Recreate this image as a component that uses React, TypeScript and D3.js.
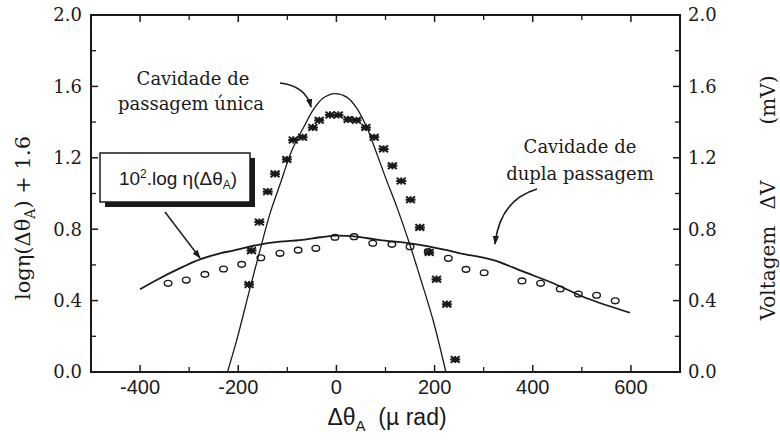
import React from "react";
import * as d3 from "d3";

// ---- data ----
const singleX = [-178, -173, -157, -140, -125, -101, -88, -69, -48, -35, -13, 4, 24, 41, 60, 77, 96, 114, 132, 151, 170, 189, 204, 225, 242];
const singleY = [0.49, 0.68, 0.84, 1.01, 1.11, 1.19, 1.3, 1.315, 1.37, 1.41, 1.44, 1.44, 1.415, 1.41, 1.37, 1.315, 1.25, 1.155, 1.07, 0.965, 0.81, 0.67, 0.52, 0.38, 0.07];

const dualX = [-343, -306, -268, -230, -193, -154, -115, -78, -42, -3, 36, 74, 113, 150, 187, 228, 264, 301, 378, 416, 456, 493, 530, 568];
const dualY = [0.497, 0.515, 0.547, 0.577, 0.603, 0.64, 0.665, 0.683, 0.693, 0.755, 0.758, 0.721, 0.715, 0.702, 0.674, 0.637, 0.575, 0.556, 0.51, 0.497, 0.465, 0.437, 0.43, 0.399];

const singleFitX = [-222, -203, -176, -154, -135, -115, -91, -67, -47, -27, -3, 21, 41, 62, 82, 102, 123, 150, 170, 197, 223];
const singleFitY = [0, 0.18, 0.47, 0.7, 0.89, 1.05, 1.24, 1.37, 1.47, 1.535, 1.56, 1.54, 1.48, 1.37, 1.225, 1.075, 0.925, 0.71, 0.535, 0.29, 0];

const dualFitX = [-400, -373, -312, -278, -237, -210, -162, -115, -74, -33, 0, 41, 89, 150, 225, 252, 320, 381, 442, 510, 598];
const dualFitY = [0.463, 0.506, 0.59, 0.631, 0.665, 0.68, 0.711, 0.73, 0.739, 0.755, 0.764, 0.758, 0.739, 0.721, 0.683, 0.665, 0.627, 0.562, 0.497, 0.413, 0.332];

const xTickValues = [-400, -200, 0, 200, 400, 600];
const xMinorValues = [-500, -300, -100, 100, 300, 500, 700];
const yTickValues = [0, 0.4, 0.8, 1.2, 1.6, 2.0];
const yMinorValues = [0.2, 0.6, 1.0, 1.4, 1.8];

const X_DOMAIN: [number, number] = [-500, 700];
const Y_DOMAIN: [number, number] = [0, 2];

const SERIF = "'DejaVu Serif', serif";
const SANS = "'Liberation Sans', Arial, sans-serif";
const INK = "#1a1a1a";

export default function App() {
  const left = 91, right = 680, top = 15, bottom = 372;
  const x = d3.scaleLinear().domain(X_DOMAIN).range([left, right]);
  const y = d3.scaleLinear().domain(Y_DOMAIN).range([bottom, top]);

  const line = d3
    .line<[number, number]>()
    .x((d) => x(d[0]))
    .y((d) => y(d[1]))
    .curve(d3.curveCatmullRom.alpha(0.5));

  const singleFit = singleFitX.map((v, i) => [v, singleFitY[i]] as [number, number]);
  const dualFit = dualFitX.map((v, i) => [v, dualFitY[i]] as [number, number]);

  const star = "M-4.5,-3.2L4.5,3.2M-4.5,3.2L4.5,-3.2M-5,0L5,0M0,-3.6L0,3.6";

  const majorLen = 7, minorLen = 5;

  return (
    <svg
      width={780}
      height={443}
      style={{ position: "absolute", left: 0, top: 0, background: "#fff" }}
    >
      <defs>
        <marker id="arr" viewBox="0 0 10 10" refX="9" refY="5" markerWidth="9" markerHeight="9" orient="auto-start-reverse" markerUnits="userSpaceOnUse">
          <path d="M0,1.5 L10,5 L0,8.5 Z" fill={INK} />
        </marker>
      </defs>

      {/* frame */}
      <rect x={left} y={top} width={right - left} height={bottom - top} fill="none" stroke={INK} strokeWidth={2} />

      {/* x ticks bottom + top */}
      {xTickValues.map((v) => (
        <g key={"xt" + v}>
          <line x1={x(v)} x2={x(v)} y1={bottom} y2={bottom - majorLen} stroke={INK} strokeWidth={1.5} />
          <line x1={x(v)} x2={x(v)} y1={top} y2={top + majorLen} stroke={INK} strokeWidth={1.5} />
          <text x={x(v)} y={394} textAnchor="middle" fontFamily={SANS} fontSize={20} fill={INK}>
            {v}
          </text>
        </g>
      ))}
      {xMinorValues.map((v) => (
        <g key={"xm" + v}>
          <line x1={x(v)} x2={x(v)} y1={bottom} y2={bottom - minorLen} stroke={INK} strokeWidth={1.3} />
          <line x1={x(v)} x2={x(v)} y1={top} y2={top + minorLen} stroke={INK} strokeWidth={1.3} />
        </g>
      ))}

      {/* y ticks left + right */}
      {yTickValues.map((v) => (
        <g key={"yt" + v}>
          <line x1={left} x2={left + majorLen} y1={y(v)} y2={y(v)} stroke={INK} strokeWidth={1.5} />
          <line x1={right} x2={right - majorLen} y1={y(v)} y2={y(v)} stroke={INK} strokeWidth={1.5} />
          <text x={82} y={y(v)} dy="0.36em" textAnchor="end" fontFamily={SERIF} fontSize={18} fill={INK}>
            {v.toFixed(1)}
          </text>
          <text x={688} y={y(v)} dy="0.36em" textAnchor="start" fontFamily={SERIF} fontSize={18} fill={INK}>
            {v.toFixed(1)}
          </text>
        </g>
      ))}
      {yMinorValues.map((v) => (
        <g key={"ym" + v}>
          <line x1={left} x2={left + minorLen} y1={y(v)} y2={y(v)} stroke={INK} strokeWidth={1.3} />
          <line x1={right} x2={right - minorLen} y1={y(v)} y2={y(v)} stroke={INK} strokeWidth={1.3} />
        </g>
      ))}

      {/* fitted curves */}
      <path d={line(singleFit) || ""} fill="none" stroke={INK} strokeWidth={1.3} />
      <path d={line(dualFit) || ""} fill="none" stroke={INK} strokeWidth={1.8} />

      {/* circles (dupla passagem) */}
      {dualX.map((v, i) => (
        <ellipse key={"c" + i} cx={x(v)} cy={y(dualY[i])} rx={3.8} ry={2.9} fill="none" stroke={INK} strokeWidth={1.4} />
      ))}

      {/* asterisks (passagem única) */}
      {singleX.map((v, i) => (
        <g key={"s" + i} transform={`translate(${x(v)},${y(singleY[i])})`}>
          <path d={star} stroke={INK} strokeWidth={2} fill="none" />
          <rect x={-2.2} y={-1.6} width={4.4} height={3.2} fill={INK} />
        </g>
      ))}

      {/* annotations */}
      <text x={193} y={85} textAnchor="middle" fontFamily={SERIF} fontSize={18} fill={INK}>Cavidade de</text>
      <text x={191} y={110} textAnchor="middle" fontFamily={SERIF} fontSize={18} fill={INK}>passagem única</text>
      <path d="M280,83 Q306,86 311,107" fill="none" stroke={INK} strokeWidth={1.6} markerEnd="url(#arr)" />

      <text x={580} y={153} textAnchor="middle" fontFamily={SERIF} fontSize={18} fill={INK}>Cavidade de</text>
      <text x={580} y={180} textAnchor="middle" fontFamily={SERIF} fontSize={18} fill={INK}>dupla passagem</text>
      <path d="M537,189 Q500,200 495,244" fill="none" stroke={INK} strokeWidth={1.6} markerEnd="url(#arr)" />

      {/* legend box */}
      <rect x={105} y={158} width={150} height={49} fill={INK} />
      <rect x={100} y={153} width={150} height={49} fill="#fff" stroke={INK} strokeWidth={1.5} />
      <text x={178} y={185} textAnchor="middle" fontFamily={SANS} fontSize={19} fill={INK}>
        10<tspan dy={-7} fontSize={12}>2</tspan>
        <tspan dy={7}>.log η(Δθ</tspan>
        <tspan dy={4} fontSize={12}>A</tspan>
        <tspan dy={-4}>)</tspan>
      </text>
      <line x1={165} y1={212} x2={200} y2={258} stroke={INK} strokeWidth={1.5} markerEnd="url(#arr)" />

      {/* axis titles */}
      <text transform="translate(30,218) rotate(-90)" textAnchor="middle" fontFamily={SERIF} fontSize={21} fill={INK}>
        logη(Δθ<tspan dy={5} fontSize={14}>A</tspan>
        <tspan dy={-5}>) + 1.6</tspan>
      </text>

      <text transform="translate(775,273) rotate(-90)" textAnchor="middle" fontFamily={SERIF} fontSize={20} fill={INK}>Voltagem</text>
      <text transform="translate(775,195) rotate(-90)" textAnchor="middle" fontFamily={SERIF} fontSize={20} fill={INK}>ΔV</text>
      <text transform="translate(775,100) rotate(-90)" textAnchor="middle" fontFamily={SERIF} fontSize={20} fill={INK}>(mV)</text>

      <text x={387} y={425} textAnchor="middle" fontFamily={SANS} fontSize={23} fill={INK} style={{ whiteSpace: "pre" }}>
        Δθ<tspan dy={6} fontSize={15}>A</tspan>
        <tspan dy={-6}>{"  (µ rad)"}</tspan>
      </text>
    </svg>
  );
}
